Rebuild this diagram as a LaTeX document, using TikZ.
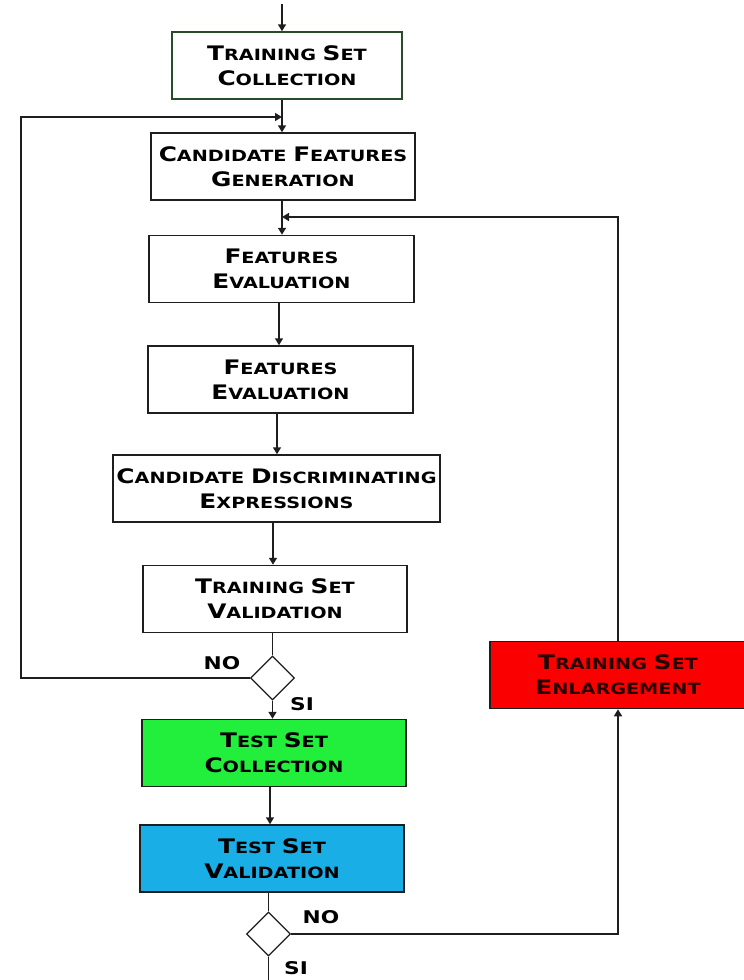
\documentclass[tikz,border=0pt]{standalone}
\usepackage{fontspec}
\setmainfont{DejaVu Sans}[FakeStretch=1.24]
\usetikzlibrary{arrows.meta,shapes.geometric,calc}

\definecolor{frame}{RGB}{30,30,30}
\definecolor{greenframe}{RGB}{40,75,40}
\definecolor{collectgreen}{RGB}{34,238,60}
\definecolor{validblue}{RGB}{26,174,230}
\definecolor{enlargered}{RGB}{250,0,0}
\definecolor{darktext}{RGB}{40,0,0}

% caps-and-small-caps word: large initial, smaller rest
\newcommand{\cw}[2]{{\fontsize{20}{25}\selectfont #1}{\fontsize{15.5}{25}\selectfont #2}}

\begin{document}
\begin{tikzpicture}[x=1pt,y=-1pt,
  box/.style={draw=frame, line width=1.5pt, minimum width=#1, minimum height=67pt,
    inner sep=0pt, align=center, font=\bfseries\fontsize{15.5}{25}\selectfont},
  dec/.style={diamond, draw=frame, line width=1.3pt, minimum width=44pt,
    minimum height=44pt, inner sep=0pt},
  conn/.style={draw=frame, line width=1.5pt},
  arr/.style={conn, -{Triangle[length=7pt,width=8pt]}},
  lab/.style={font=\bfseries\fontsize{17.5}{17.5}\selectfont, inner sep=0pt}]

\useasboundingbox (0,0) rectangle (744,980);

% main column
\node[box=230pt, draw=greenframe] (b1) at (287,65.5) {\cw{T}{RAINING} \cw{S}{ET}\\\cw{C}{OLLECTION}};
\node[box=264pt] (b2) at (283,166.5) {\cw{C}{ANDIDATE} \cw{F}{EATURES}\\\cw{G}{ENERATION}};
\node[box=265pt] (b3) at (281.5,269) {\cw{F}{EATURES}\\\cw{E}{VALUATION}};
\node[box=265pt] (b4) at (280.5,379.5) {\cw{F}{EATURES}\\\cw{E}{VALUATION}};
\node[box=327pt] (b5) at (276.5,488.5) {\cw{C}{ANDIDATE} \cw{D}{ISCRIMINATING}\\\cw{E}{XPRESSIONS}};
\node[box=264pt] (b6) at (275,599) {\cw{T}{RAINING} \cw{S}{ET}\\\cw{V}{ALIDATION}};
\node[dec] (d1) at (272.5,678) {};
\node[box=264pt, fill=collectgreen] (b7) at (274,753) {\cw{T}{EST} \cw{S}{ET}\\\cw{C}{OLLECTION}};
\node[box=264pt, fill=validblue] (b8) at (272,858.5) {\cw{T}{EST} \cw{S}{ET}\\\cw{V}{ALIDATION}};
\node[dec] (d2) at (268.5,934) {};

% side box
\node[box=256pt, fill=enlargered, text=darktext] (red) at (618,675) {\cw{T}{RAINING} \cw{S}{ET}\\\cw{E}{NLARGEMENT}};

% branch labels
\node[lab] (no1) at (222,663) {NO};
\node[lab] (si1) at (302,704) {SI};
\node[lab] (no2) at (321,917) {NO};
\node[lab] (si2) at (296,968) {SI};

% connector anchors
\coordinate (top) at (282,4);
\coordinate (j1) at (282,117);
\coordinate (j2) at (282,217);
\coordinate (lx) at (21,0);
\coordinate (bot) at (268.5,980);

% flow
\draw[arr] (top) -- (top |- b1.north);
\draw[arr] (top |- b1.south) -- (top |- b2.north);
\draw[arr] (top |- b2.south) -- (top |- b3.north);
\draw[arr] (b3.south -| 279,0) -- (b4.north -| 279,0);
\draw[arr] (b4.south -| 277,0) -- (b5.north -| 277,0);
\draw[arr] (b5.south -| 273,0) -- (b6.north -| 273,0);
\draw[conn] (b6.south -| d1.north) -- (d1.north);
\draw[arr] (d1.south) -- (d1.south |- b7.north);
\draw[arr] (b7.south -| 270,0) -- (b8.north -| 270,0);
\draw[conn] (b8.south -| d2.north) -- (d2.north);
\draw[conn] (d2.south) -- (bot);

% feedback loops
\draw[arr] (d1.west) -- (d1.west -| lx) |- (j1);
\draw[arr] (red.north) |- (j2);
\draw[arr] (d2.east) -| (red.south);
\end{tikzpicture}
\end{document}
